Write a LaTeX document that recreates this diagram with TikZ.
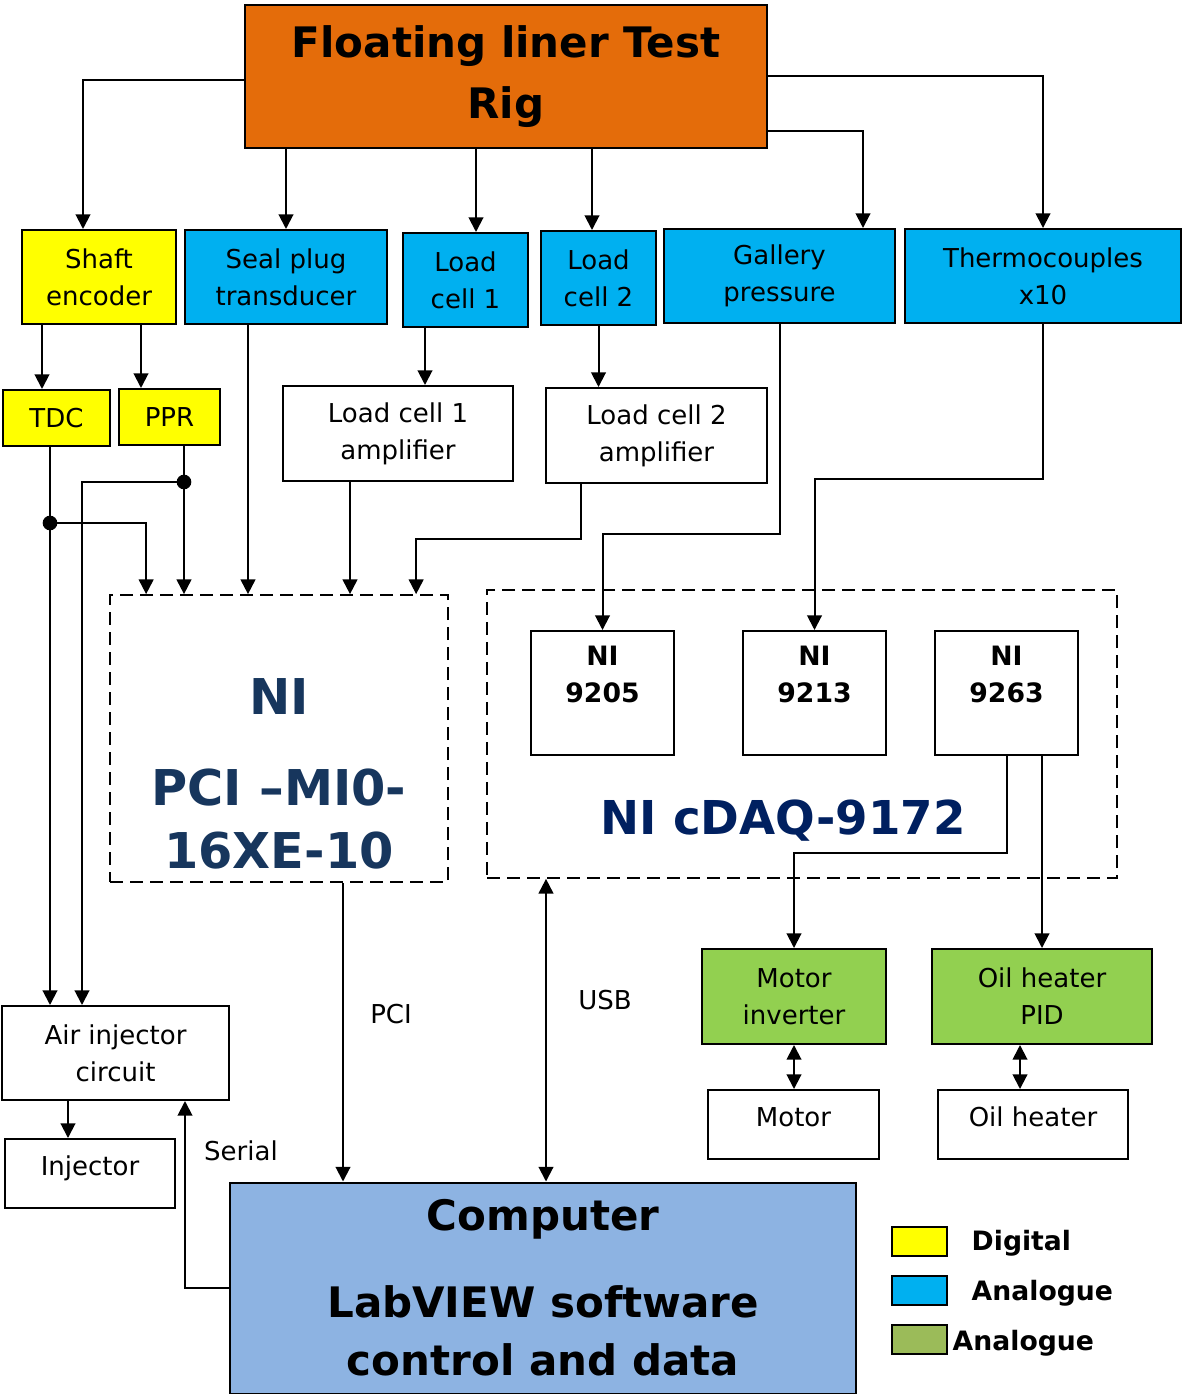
\documentclass[tikz,border=0pt]{standalone}
\usepackage{fontspec}
\setmainfont{DejaVu Sans}
\usetikzlibrary{arrows.meta,calc}

\definecolor{rigorange}{HTML}{E46C0A}
\definecolor{digyellow}{HTML}{FFFF00}
\definecolor{anablue}{HTML}{00B0F0}
\definecolor{ctrlgreen}{HTML}{92D050}
\definecolor{leggreen}{HTML}{9BBB59}
\definecolor{pcblue}{HTML}{8DB3E2}
\definecolor{pcinavy}{HTML}{17365D}
\definecolor{daqnavy}{HTML}{002060}

\begin{document}
\begin{tikzpicture}[
  x=0.75pt, y=-0.75pt,
  every node/.style={font=\fontsize{19.5}{27.75}\selectfont},
  box/.style={draw, line width=1.5pt, fill=#1, inner sep=0pt, align=center},
  sz/.style 2 args={minimum width=#1*0.75pt, minimum height=#2*0.75pt},
  daq/.style={draw, line width=1.3pt, dash pattern=on 10pt off 5pt, inner sep=0pt},
  module/.style={draw, line width=1.5pt, fill=white, inner sep=0pt, align=center,
                 font=\fontsize{20}{27.75}\selectfont\bfseries},
  raised/.style={text height=14pt, text depth=10.5pt},
  wire/.style={line width=1.5pt},
  arrow/.style={line width=1.5pt, -{Triangle[length=11pt,width=11pt]}},
  dblarrow/.style={line width=1.5pt, {Triangle[length=11pt,width=11pt]}-{Triangle[length=11pt,width=11pt]}},
  legtext/.style={anchor=west, font=\fontsize{20}{24}\selectfont\bfseries},
]
\useasboundingbox (0,0) rectangle (1184,1394);

% ── Test rig ──
\node[box=rigorange, sz={522}{143}, font=\fontsize{31.5}{45.75}\selectfont\bfseries]
  (rig) at (506,76.5) {Floating liner Test\\Rig};

% ── Sensors ──
\node[box=digyellow, sz={154}{94}] (shaft) at (99,277) {Shaft\\encoder};
\node[box=anablue, sz={202}{94}] (seal) at (286,277) {Seal plug\\transducer};
\node[box=anablue, sz={125}{94}] (lc1) at (465.5,280) {Load\\cell 1};
\node[box=anablue, sz={115}{94}] (lc2) at (598.5,278) {Load\\cell 2};
\node[box=anablue, sz={231}{94}] (gallery) at (779.5,276) {Gallery\\pressure};
\node[box=anablue, sz={276}{94}] (thermo) at (1043,276) {Thermocouples\\x10};

\node[box=digyellow, sz={107}{56}] (tdc) at (56.5,418) {TDC};
\node[box=digyellow, sz={101}{56}] (ppr) at (169.5,417) {PPR};
\node[box=white, sz={230}{95}] (amp1) at (398,433.5) {Load cell 1\\amplifier};
\node[box=white, sz={221}{95}] (amp2) at (656.5,435.5) {Load cell 2\\amplifier};

% ── Acquisition ──
\node[daq, sz={338}{287}] (pci) at (279,738.5) {};
\node[text=pcinavy, align=center, font=\fontsize{37}{47}\selectfont\bfseries]
  (pcilabel) at (279,774) {NI\\[21pt]PCI –MI0-\\16XE-10};

\node[daq, sz={630}{288}] (cdaq) at (802,734) {};
\node[text=daqnavy, font=\fontsize{35}{42}\selectfont\bfseries]
  (cdaqlabel) at (783,821) {NI cDAQ-9172};
\node[module, sz={143}{124}] (ni9205) at (602.5,693) {NI\\9205\\\mbox{}};
\node[module, sz={143}{124}] (ni9213) at (814.5,693) {NI\\9213\\\mbox{}};
\node[module, sz={143}{124}] (ni9263) at (1006.5,693) {NI\\9263\\\mbox{}};

% ── Actuators ──
\node[box=ctrlgreen, sz={184}{95}] (motinv) at (794,996.5) {Motor\\inverter};
\node[box=ctrlgreen, sz={220}{95}] (oilpid) at (1042,996.5) {Oil heater\\PID};
\node[box=white, sz={171}{69}, raised] (motor) at (793.5,1124.5) {Motor};
\node[box=white, sz={190}{69}, raised] (heater) at (1033,1124.5) {Oil heater};
\node[box=white, sz={227}{94}] (air) at (115.5,1053) {Air injector\\circuit};
\node[box=white, sz={170}{69}, raised] (injector) at (90,1173.5) {Injector};

% ── Computer ──
\node[box=pcblue, sz={626}{211}, font=\fontsize{31.5}{44}\selectfont\bfseries]
  (computer) at (543,1288) {Computer\\[21pt]LabVIEW software\\control and data};

\node (pcilbl) at (391,1014) {PCI};
\node (usblbl) at (605,1000) {USB};
\node (seriallbl) at (241,1151) {Serial};

% ── Legend ──
\node[box=digyellow, sz={55}{29}] (legdig) at (919.5,1241.5) {};
\node[box=anablue, sz={55}{29}] (legana) at (919.5,1290.5) {};
\node[box=leggreen, sz={55}{29}] (legctrl) at (919.5,1339.5) {};
\node[legtext] (legdigtxt) at (967,1243) {Digital};
\node[legtext] (leganatxt) at (967,1293) {Analogue};
\node[legtext] (legctrltxt) at (948,1343) {Analogue};

% ── Helper points ──
\coordinate (lc1in) at ($(lc1.north)+(10.5,0)$);
\coordinate (lc2in) at ($(lc2.north)+(-6.5,0)$);
\coordinate (tdcin) at ($(tdc.north)+(-14.5,0)$);
\coordinate (pprin) at ($(ppr.north)+(-28.5,0)$);
\coordinate (amp1in) at ($(amp1.north)+(27,0)$);
\coordinate (sealout) at ($(seal.south)+(-38,0)$);
\coordinate (amp1out) at ($(amp1.south)+(-48,0)$);
\coordinate (amp2out) at ($(amp2.south)+(-75.5,0)$);
\coordinate (tdcjoin) at ($(tdc.south)+(-6.5,76)$);
\coordinate (pprjoin) at ($(ppr.south)+(14.5,36)$);
\coordinate (pciout) at ($(pci.south)+(64,0)$);
\coordinate (usb) at ($(cdaq.south)+(-256,0)$);
\coordinate (heatin) at ($(heater.north)+(-13,0)$);
\coordinate (injin) at ($(injector.north)+(-22,0)$);

% ── Arrows from rig ──
\draw[arrow] ($(rig.west)+(0,3.5)$) -| ($(shaft.north)+(-16,0)$);
\draw[arrow] (rig.south -| seal.north) -- (seal.north);
\draw[arrow] (rig.south -| lc1in) -- (lc1in);
\draw[arrow] (rig.south -| lc2in) -- (lc2in);
\draw[arrow] ($(rig.east)+(0,54.5)$) -| ($(gallery.north)+(83.5,0)$);
\draw[arrow] (rig.east) -| (thermo.north);

% ── Sensor signals ──
\draw[arrow] (shaft.south -| tdcin) -- (tdcin);
\draw[arrow] (shaft.south -| pprin) -- (pprin);
\draw[arrow] (lc1.south -| amp1in) -- (amp1in);
\draw[arrow] (lc2.south) -- (lc2.south |- amp2.north);

\draw[wire] (tdc.south -| tdcjoin) -- (tdcjoin);
\draw[arrow] (tdcjoin) -| ($(pci.north west)+(37,0)$);
\draw[arrow] (tdcjoin) -- (tdcjoin |- air.north);
\draw[wire] (ppr.south -| pprjoin) -- (pprjoin);
\draw[arrow] (pprjoin) -- (pprjoin |- pci.north);
\draw[arrow] (pprjoin) -| ($(air.north west)+(81,0)$);
\fill (tdcjoin) circle (5.5pt);
\fill (pprjoin) circle (5.5pt);

\draw[arrow] (sealout) -- (sealout |- pci.north);
\draw[arrow] (amp1out) -- (amp1out |- pci.north);
\draw[arrow] (amp2out) -- ++(0,55) -| ($(pci.north west)+(307,0)$);

\draw[arrow] (gallery.south) -- ++(0,210) -| (ni9205.north);
\draw[arrow] (thermo.south) -- ++(0,155) -| (ni9213.north);

% ── Outputs ──
\draw[arrow] (ni9263.south) -- ++(0,97) -| (motinv.north);
\draw[arrow] (ni9263.south -| oilpid.north) -- (oilpid.north);
\draw[dblarrow] (motinv.south) -- (motinv.south |- motor.north);
\draw[dblarrow] (oilpid.south -| heatin) -- (heatin);
\draw[arrow] (air.south -| injin) -- (injin);

% ── Computer links ──
\draw[arrow] (pciout) -- (pciout |- computer.north);
\draw[dblarrow] (usb) -- (usb |- computer.north);
\draw[arrow] (computer.west) -| ($(air.south)+(69.5,0)$);

\end{tikzpicture}
\end{document}
